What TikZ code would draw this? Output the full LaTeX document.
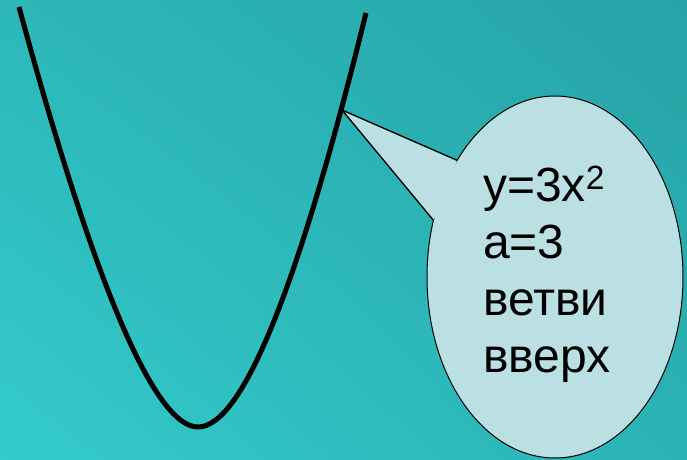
\documentclass[tikz,border=0pt]{standalone}
\usepackage{fontspec}
\setmainfont{Liberation Sans}
\usetikzlibrary{shapes.geometric,shadings,positioning}
\definecolor{bgtl}{HTML}{2DB7B8}
\definecolor{bgtr}{HTML}{27A3A6}
\definecolor{bgbl}{HTML}{34CBCC}
\definecolor{bgbr}{HTML}{2BB3B4}
\definecolor{bubblefill}{HTML}{BBE0E3}

\begin{document}
\begin{tikzpicture}[x=0.75pt,y=-0.75pt]
\tikzstyle{every node}=[font=\fontsize{36}{42.75}\selectfont]
\shade[upper left=bgtl, upper right=bgtr, lower left=bgbl, lower right=bgbr] (0,0) rectangle (687,460);
% the parabola
\draw [line width=3.75pt] (19,7) .. controls (95,287) and (155,427) .. (198,427) .. controls (242,427) and (298,289) .. (366,13);
\coordinate (tip) at (342,110);
% the callout
\node[ellipse, draw, fill=bubblefill, line width=0.75pt, minimum width=192pt, minimum height=271.5pt, inner sep=0, outer sep=0] (bubble) at (555,277) {};
\fill [bubblefill] (tip) -- (bubble.130) -- (bubble.155) -- cycle;
\draw [line width=1pt] (bubble.130) -- (tip) -- (bubble.155);
\node[align=left, anchor=north west, inner sep=0] (label) at (483,166) {y=3x\textsuperscript{2}\\a=3\\ветви\\вверх};

\end{tikzpicture}
\end{document}
